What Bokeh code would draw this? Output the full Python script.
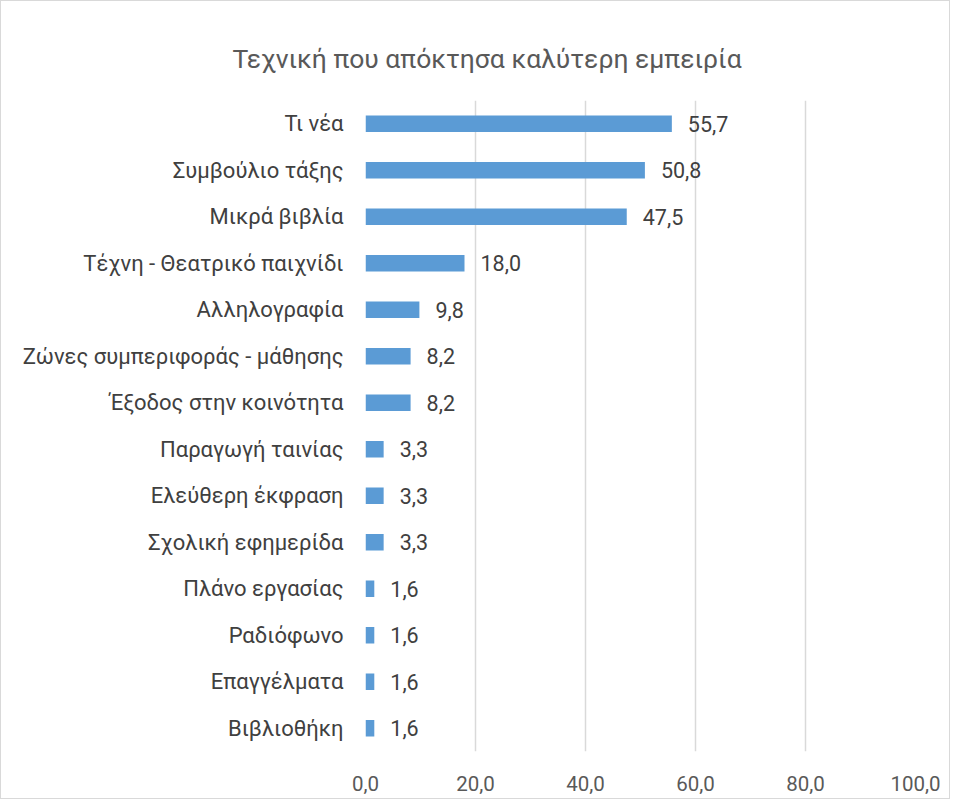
from bokeh.plotting import figure
from bokeh.models import Range1d, FactorRange, ColumnDataSource, LabelSet, FixedTicker, CustomJSTickFormatter
from bokeh.core.properties import value
from bokeh.embed import file_html
from bokeh.resources import INLINE

categories = ["Τι νέα", "Συμβούλιο τάξης", "Μικρά βιβλία", "Τέχνη - Θεατρικό παιχνίδι",
              "Αλληλογραφία", "Ζώνες συμπεριφοράς - μάθησης", "Έξοδος στην κοινότητα",
              "Παραγωγή ταινίας", "Ελεύθερη έκφραση", "Σχολική εφημερίδα", "Πλάνο εργασίας",
              "Ραδιόφωνο", "Επαγγέλματα", "Βιβλιοθήκη"]
values = [55.7, 50.8, 47.5, 18.0, 9.8, 8.2, 8.2, 3.3, 3.3, 3.3, 1.6, 1.6, 1.6, 1.6]
x_ticks = [0, 20, 40, 60, 80, 100]
title_text = "Τεχνική που απόκτησα καλύτερη εμπειρία"

FONT = "Roboto"
src = ColumnDataSource(dict(cat=categories, val=values,
                            lab=[f"{v:.1f}".replace(".", ",") for v in values]))

p = figure(width=950, height=799, output_backend="svg", toolbar_location=None,
           x_range=Range1d(0, 100), y_range=FactorRange(factors=list(reversed(categories))),
           min_border_left=364, min_border_right=36, min_border_top=99, min_border_bottom=49)
p.styles = {"border": "1px solid #d9d9d9"}
p.outline_line_color = None
p.hbar(y="cat", right="val", left=0, height=0.36, source=src,
       fill_color="#5B9BD5", line_color=None)

p.add_layout(LabelSet(x="val", y="cat", text="lab", source=src, x_offset=16,
                      text_align="left", text_baseline="middle",
                      text_font=value(FONT), text_font_size=value("21.5px"), text_color="#404040"))

p.title.text = title_text
p.title.align = "left"
p.title.offset = -133
p.title.text_font = FONT
p.title.text_font_size = "26.5px"
p.title.text_font_style = "normal"
p.title.text_color = "#595959"
p.title.standoff = 54

p.xaxis.ticker = FixedTicker(ticks=x_ticks)
p.xaxis.formatter = CustomJSTickFormatter(code="return tick.toFixed(1).replace('.', ',');")
p.xaxis.axis_line_color = None
p.xaxis.major_tick_line_color = None
p.xaxis.minor_tick_line_color = None
p.xaxis.major_label_standoff = 18
p.xaxis.major_label_text_font = FONT
p.xaxis.major_label_text_font_size = "20.5px"
p.xaxis.major_label_text_color = "#595959"

p.yaxis.axis_line_color = None
p.yaxis.major_tick_line_color = None
p.yaxis.major_label_standoff = 16
p.yaxis.major_label_text_font = FONT
p.yaxis.major_label_text_font_size = "22px"
p.yaxis.major_label_text_color = "#404040"

p.xgrid.grid_line_color = "#d9d9d9"
p.xgrid.grid_line_width = 1.5
p.ygrid.grid_line_color = None

open("out.html", "w").write(file_html(p, INLINE))
